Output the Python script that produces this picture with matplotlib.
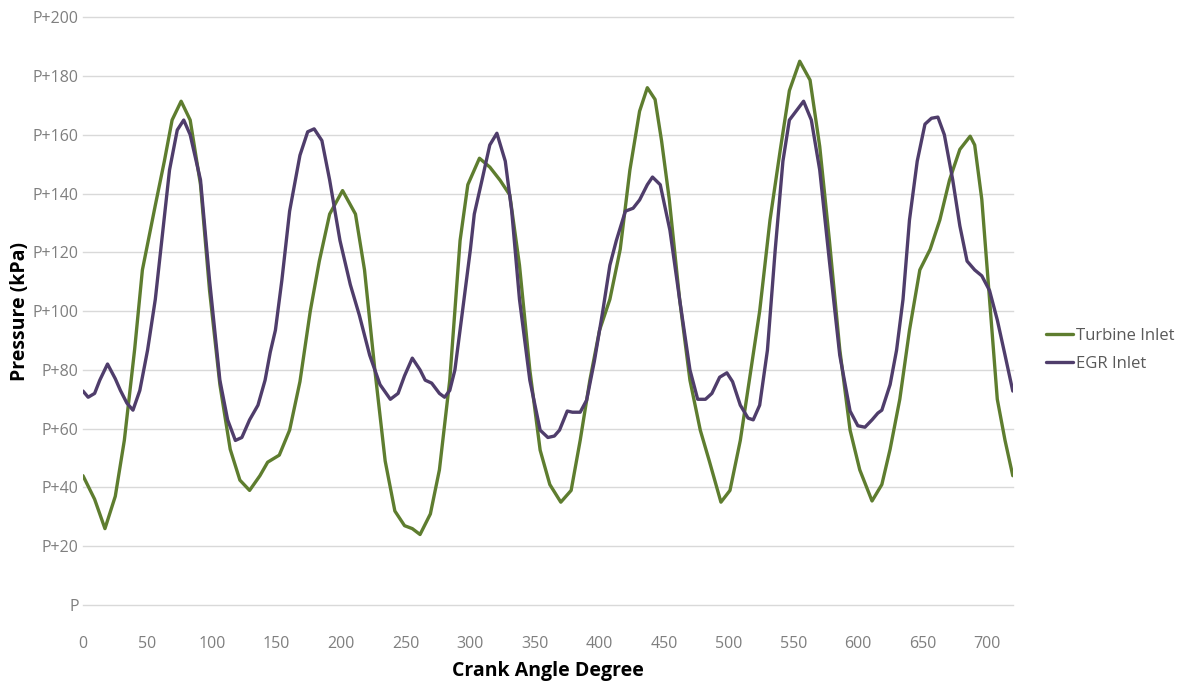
import matplotlib
matplotlib.use("Agg")
from matplotlib import pyplot as plt

# Turbine inlet pressure (kPa above P) vs crank angle
turb_deg = [0, 9, 17, 25, 32, 40, 46, 56, 63, 69, 76, 83, 91, 98, 106, 114, 121.5, 129,
            137, 143, 152, 160, 168, 176, 183, 191, 201, 211, 218, 226, 234, 241.5, 249,
            255, 261, 269, 276, 284, 292, 298, 307, 315, 323, 330.5, 338, 346, 354, 361.5,
            370, 378, 385, 392.5, 400, 408, 416, 423.5, 431, 437, 443, 448, 454, 462, 470,
            478, 485, 494, 501, 509, 516, 524, 532, 540, 547, 555, 563, 570.5, 578, 586,
            594, 601.5, 611, 618.6, 625, 632.5, 640, 648, 656, 663.5, 671, 679, 687, 690.5,
            696, 702, 708, 714, 720]
turb_val = [44, 36, 26, 37, 56, 87, 114, 136, 151, 165, 171.4, 165, 143, 107, 75, 53, 42.5, 39,
            44, 48.6, 51, 59.5, 76, 100, 117, 133, 141, 133, 114, 80, 49, 32, 27,
            26, 24, 31, 46, 76.5, 124, 143, 152, 149, 144.5, 139.5, 115.6, 80, 52.7, 41,
            35, 39, 56, 76.5, 93.5, 104, 121, 148, 168, 176, 172, 158, 138, 104, 76.5,
            59.5, 49, 35, 39, 56, 76.5, 100, 131, 155, 175, 185, 178.6, 156, 124, 87,
            59.5, 46, 35.4, 41, 53, 70, 93.5, 114, 121, 131, 144.6, 155, 159.5, 156.5,
            138, 104, 70, 56, 44]

# EGR inlet pressure (kPa above P) vs crank angle
egr_deg = [0, 4, 9, 13, 19, 25, 29, 34, 38.7, 44, 50, 56, 61, 67, 73, 78, 83, 91, 98, 106,
           112, 118, 123, 129, 135.5, 141, 145, 149, 154, 160, 168, 174, 179, 185, 191, 199,
           207, 214, 222, 230, 238, 244, 249, 255, 261, 265, 270, 276, 280, 284, 288, 293,
           300, 303, 309, 315, 320.5, 327, 332, 338, 346, 354, 360, 365, 369, 375, 379, 385,
           390, 396, 402.5, 408, 413, 420, 426, 431, 437, 441, 447, 454.5, 462, 470, 476,
           482, 487, 493, 498.6, 503, 509, 515, 519, 524, 530, 536, 542, 547, 558, 564,
           570.5, 578, 586, 594, 600, 605.5, 611, 615.5, 618.6, 625, 630, 635, 640, 646,
           652, 657, 662, 667, 673.5, 679, 684.6, 690.5, 696, 702, 708, 714, 720]
egr_val = [72.8, 70.7, 72, 76.5, 82, 77, 73, 68.7, 66.3, 73, 86.7, 104, 124, 148, 161.6, 165,
           160, 144.6, 110.5, 76.5, 63, 56, 57, 63, 68, 76.5, 86, 93.5, 110.5, 134, 153, 161,
           162, 158, 144.6, 124, 109, 98.6, 85, 75, 70, 72, 78, 84, 80, 76.5, 75.5, 72,
           70.7, 73, 80, 97, 121, 133, 144.6, 156.5, 160.5, 151, 134, 104, 76.5, 59.5, 57,
           57.5, 59.5, 66, 65.6, 65.6, 69.7, 83, 100, 115.6, 124, 134, 135, 137.8, 143, 145.6,
           143, 127.5, 104, 80, 70, 70, 72, 77.5, 79, 76, 68, 63.6, 63, 68, 86.7, 120.7,
           151, 165, 171.4, 165, 148, 117, 85, 66, 61, 60.5, 63, 65.3, 66.3, 75, 86.7, 104,
           131, 151, 163.6, 165.6, 166, 160, 144.6, 129, 117, 114, 112, 107, 97, 85, 72.8]

yticks = [0, 20, 40, 60, 80, 100, 120, 140, 160, 180, 200]
ylabels = ["P"] + ["P+%d" % v for v in yticks[1:]]
xticks = [0, 50, 100, 150, 200, 250, 300, 350, 400, 450, 500, 550, 600, 650, 700]

plt.rcParams['font.family'] = ['Open Sans', 'DejaVu Sans']

fig = plt.figure(figsize=(11.89, 6.86), dpi=100)
ax = fig.add_axes([0.0698, 0.118, 0.782, 0.857])

ax.plot(turb_deg, turb_val, color='#5e7d2f', lw=2.4, label='Turbine Inlet',
        solid_joinstyle='round', solid_capstyle='round')
ax.plot(egr_deg, egr_val, color='#4f3d6b', lw=2.4, label='EGR Inlet',
        solid_joinstyle='round', solid_capstyle='round')

ax.set_xlim(0, 720)
ax.set_ylim(0, 200)
ax.set_yticks(yticks)
ax.set_yticklabels(ylabels)
ax.set_xticks(xticks)
ax.grid(axis='y', color='#d9d9d9', lw=1)
for g in ax.yaxis.get_gridlines():
    g.set_clip_on(False)
ax.set_axisbelow(True)
for s in ax.spines.values():
    s.set_visible(False)
ax.tick_params(axis='both', length=0, labelsize=11.5, labelcolor='#7f7f7f')
ax.tick_params(axis='x', pad=22)
ax.tick_params(axis='y', pad=3)

ax.set_xlabel('Crank Angle Degree', fontsize=14, fontweight='bold', labelpad=7)
ax.set_ylabel('Pressure (kPa)', fontsize=14, fontweight='bold')
ax.yaxis.set_label_coords(-0.057, 0.5)

leg = ax.legend(loc='center left', bbox_to_anchor=(1.02, 0.434), frameon=False,
                fontsize=12, handlelength=1.6, handletextpad=0.15, labelspacing=0.75)
for t in leg.get_texts():
    t.set_color('#595959')

fig.savefig('out.png', dpi=100)
